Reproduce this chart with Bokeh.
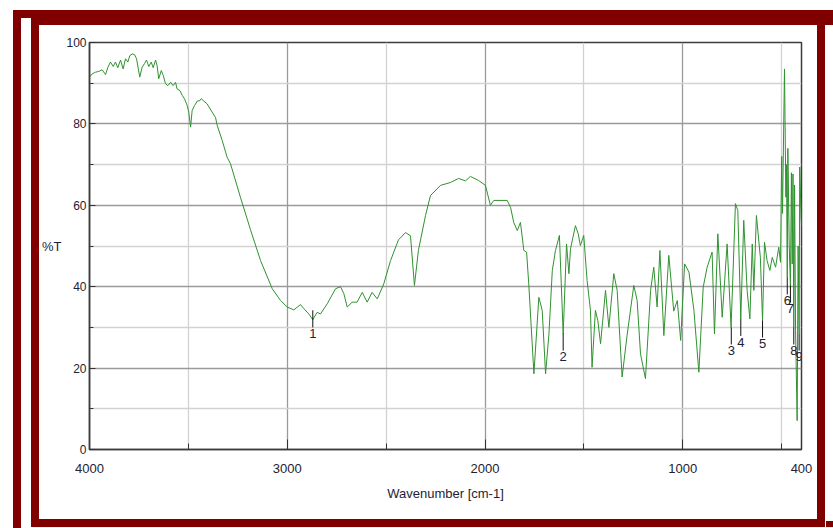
from bokeh.plotting import figure
from bokeh.models import FixedTicker, Range1d
from bokeh.embed import file_html
from bokeh.resources import INLINE
from bokeh.core.properties import value

# ---------------- data ----------------
wavenumber = [
    4000, 3986, 3970, 3953, 3936, 3919, 3907, 3894, 3880, 3869, 3857, 3843, 3830, 3818,
    3806, 3796, 3784, 3772, 3762, 3746, 3734, 3722, 3712, 3700, 3688, 3678, 3666, 3658,
    3650, 3637, 3627, 3616, 3604, 3590, 3577, 3565, 3557, 3543, 3531, 3520, 3506, 3498,
    3489, 3481, 3469, 3455, 3442, 3435, 3422, 3405, 3380, 3363, 3354, 3329, 3304, 3287,
    3237, 3186, 3135, 3076, 3034, 3000, 2967, 2933,
    2916, 2891, 2871, 2849, 2832, 2798, 2756, 2731, 2714, 2697, 2672, 2647, 2621, 2596,
    2571, 2545, 2512, 2478, 2438, 2402, 2377, 2357, 2337, 2301, 2276, 2225, 2175, 2134,
    2099, 2074, 2033, 1998, 1973, 1956, 1888, 1871, 1855, 1837, 1821, 1804, 1790, 1779,
    1753, 1728, 1711, 1694, 1677, 1660, 1644, 1624, 1605, 1588, 1576, 1568, 1543, 1529,
    1518, 1501, 1484, 1467, 1459, 1442, 1430, 1416, 1391, 1374, 1349, 1332, 1307, 1282,
    1248, 1231, 1214, 1189, 1163, 1147, 1130, 1116, 1096, 1071, 1046, 1028, 1011, 991,
    969, 944, 919, 897, 877, 852, 840, 823, 801, 776, 756, 734, 722, 707, 692, 675, 661,
    649, 641, 628, 608, 597, 587, 574, 560, 548, 531, 515, 506, 503, 500, 496, 486, 479,
    476, 472, 469, 462, 456, 451, 447, 443, 439, 435, 430, 422, 417, 412, 409, 402, 400,
]
transmittance = [
    91.5, 92.3, 92.7, 92.9, 93.3, 92.1, 93.9, 95.2, 94.1, 95.2, 93.8, 95.7, 93.5, 96.0,
    95.2, 96.8, 97.2, 97.0, 96.0, 91.5, 93.9, 94.8, 95.7, 94.1, 95.2, 93.8, 95.7, 94.3,
    91.1, 93.1, 91.9, 89.9, 89.4, 90.2, 89.4, 90.2, 88.6, 88.2, 87.0, 86.2, 84.5, 82.9,
    79.2, 83.3, 84.5, 85.6, 85.7, 86.2, 85.6, 84.9, 82.9, 81.6, 79.6, 75.9, 71.8, 70.2,
    62.0, 54.0, 46.4, 39.5, 36.6, 35.0, 34.3, 35.6,
    34.6, 33.3, 31.9, 33.7, 33.3, 35.8, 39.5, 40.0, 38.3, 35.0, 36.2, 36.2, 38.6, 36.2,
    38.6, 37.0, 40.7, 46.4, 51.5, 53.3, 52.5, 40.3, 48.9, 57.5, 62.4, 64.9, 65.6, 66.6,
    66.0, 67.1, 66.1, 64.9, 60.0, 61.2, 61.2, 59.5, 55.8, 53.8, 55.8, 48.9, 48.5, 40.7,
    18.6, 37.4, 34.2, 18.6, 28.4, 44.0, 48.9, 52.6, 28.4, 50.5, 43.2, 49.3, 55.0, 53.0,
    50.1, 52.6, 41.5, 34.2, 20.2, 34.2, 31.7, 26.0, 39.1, 30.0, 43.2, 39.1, 17.8, 28.0,
    40.3, 36.6, 23.5, 17.4, 39.1, 44.8, 35.0, 48.9, 28.0, 47.7, 34.0, 36.6, 26.8, 45.6,
    43.6, 34.2, 19.0, 39.9, 44.8, 48.5, 28.4, 53.0, 32.5, 50.5, 30.0, 60.4, 58.7, 32.1,
    56.3, 39.1, 32.1, 50.5, 39.1, 57.5, 47.2, 31.7, 50.9, 46.4, 44.0, 47.2, 44.8, 49.7,
    46.0, 60.0, 72.0, 58.0, 93.5, 62.0, 70.0, 42.3, 74.0, 50.0, 40.3, 68.0, 45.6, 67.7,
    30.0, 65.0, 29.2, 7.1, 50.0, 28.5, 69.4, 57.1, 55.0,
]

peak_numbers = ["1", "2", "3", "4", "5", "6", "7", "8", "9"]
peak_wavenumber = [2871, 1605, 755, 707, 597, 472, 456, 439, 412]
peak_transmittance = [34.2, 28.5, 30.0, 32.1, 31.7, 42.3, 40.3, 30.0, 28.5]

x_ticks = [4000, 3000, 2000, 1000, 400]
x_minor_ticks = [3500, 2500, 1500, 500]
y_ticks = [0, 20, 40, 60, 80, 100]
y_minor_ticks = [10, 30, 50, 70, 90]

# ---------------- styling ----------------
FONT = "Liberation Sans"
TXT = "#1e2233"
MAROON = "#800000"
W, H = 833, 528
FL, FR, FT, FB = 89, 32, 42, 79  # space around the plotting frame

p = figure(width=W, height=H, x_range=Range1d(4000, 400), y_range=Range1d(0, 100),
           output_backend="svg", toolbar_location=None,
           min_border_left=FL, min_border_right=FR, min_border_top=FT, min_border_bottom=FB)
p.background_fill_color = "white"
p.border_fill_color = None
p.outline_line_color = "#3c3c3c"
p.outline_line_width = 1.5

# maroon double frame painted behind the (transparent) border area of the canvas
boxes = [(13, 10, 820, 8), (13, 10, 8, 518), (31, 18, 802, 7), (31, 18, 8, 509),
         (817, 18, 8, 509), (31, 519, 794, 8), (826, 521, 7, 6)]
grad = "linear-gradient(%s,%s)" % (MAROON, MAROON)
p.styles = {
    "background-color": "white",
    "background-image": ", ".join([grad] * len(boxes)),
    "background-size": ", ".join("%dpx %dpx" % (b[2], b[3]) for b in boxes),
    "background-position": ", ".join("%dpx %dpx" % (b[0], b[1]) for b in boxes),
    "background-repeat": "no-repeat",
}

p.xaxis.ticker = FixedTicker(ticks=x_ticks, minor_ticks=x_minor_ticks)
p.yaxis.ticker = FixedTicker(ticks=y_ticks, minor_ticks=y_minor_ticks)

for ax in (p.xaxis[0], p.yaxis[0]):
    ax.axis_line_color = "#3c3c3c"
    ax.axis_line_width = 1.5
    ax.major_tick_out = 0
    ax.minor_tick_out = 0
    ax.major_tick_line_color = "#333333"
    ax.minor_tick_line_color = "#333333"
    ax.major_label_text_font = FONT
    ax.major_label_text_color = TXT
    ax.axis_label_text_font = FONT
    ax.axis_label_text_font_style = "normal"
    ax.axis_label_text_color = TXT

p.xaxis.major_tick_in = 10
p.xaxis.minor_tick_in = 6
p.yaxis.major_tick_in = 6
p.yaxis.minor_tick_in = 4
p.xaxis.major_label_text_font_size = "13px"
p.yaxis.major_label_text_font_size = "12px"
p.xaxis.major_label_standoff = 14
p.yaxis.major_label_standoff = 3
p.xaxis.axis_label = "Wavenumber [cm-1]"
p.xaxis.axis_label_text_font_size = "13px"
p.xaxis.axis_label_standoff = 10
p.yaxis.axis_label = "%T"
p.yaxis.axis_label_text_font_size = "13px"
p.yaxis.axis_label_orientation = "horizontal"
p.yaxis.axis_label_standoff = 2
p.yaxis.axis_label_text_baseline = "top"

p.xgrid.grid_line_color = "#9a9a9a"
p.xgrid.grid_line_width = 1.3
p.xgrid.minor_grid_line_color = "#d2d2d2"
p.xgrid.minor_grid_line_width = 1.3
p.ygrid.grid_line_color = "#9a9a9a"
p.ygrid.grid_line_width = 1.3
p.ygrid.minor_grid_line_color = "#d2d2d2"
p.ygrid.minor_grid_line_width = 1.3

# spectrum
p.line(wavenumber, transmittance, line_color="#2f922f", line_width=1.0)

# peak markers and numbers
p.segment(x0=peak_wavenumber, y0=peak_transmittance, x1=peak_wavenumber,
          y1=[t - 4.2 for t in peak_transmittance], line_color="#111111", line_width=1)
p.text(x=peak_wavenumber, y=[t - 4.6 for t in peak_transmittance], text=peak_numbers,
       text_align="center", text_baseline="top", text_font=value(FONT),
       text_font_size="13px", text_color=TXT)

open("out.html", "w").write(file_html(p, INLINE))
